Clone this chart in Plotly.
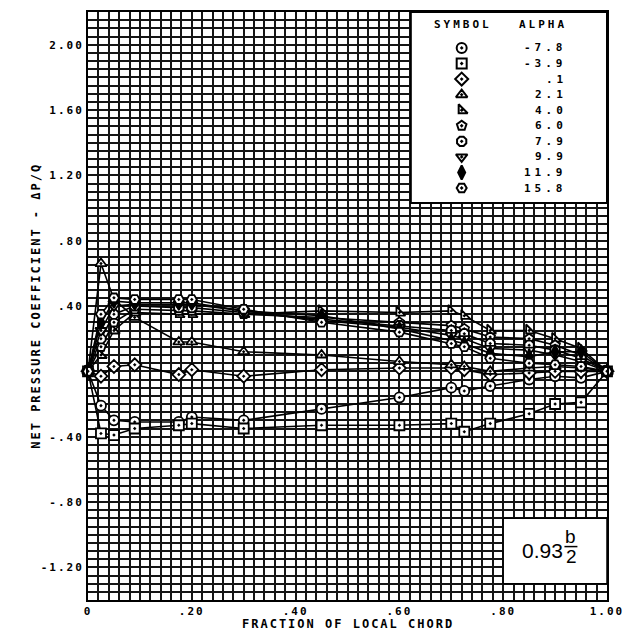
import plotly.graph_objects as go

# chord stations (fraction of local chord)
chord = [0, 0.025, 0.05, 0.09, 0.175, 0.20, 0.30, 0.45, 0.60, 0.70, 0.725, 0.775, 0.85, 0.90, 0.95, 1.00]

alphas = ["-7.8", "-3.9", ".1", "2.1", "4.0", "6.0", "7.9", "9.9", "11.9", "15.8"]

# net pressure coefficient, one list per alpha
cp_m78 = [0, -0.21, -0.30, -0.31, -0.31, -0.28, -0.30, -0.23, -0.16, -0.10, -0.12, -0.09, -0.05, -0.03, -0.04, 0]
cp_m39 = [0, -0.38, -0.39, -0.35, -0.33, -0.32, -0.35, -0.33, -0.33, -0.32, -0.37, -0.32, -0.26, -0.20, -0.19, 0]
cp_01 = [0, -0.03, 0.03, 0.04, -0.02, 0.01, -0.03, 0.01, 0.02, 0.02, 0.01, -0.02, -0.01, 0.00, 0.00, 0]
cp_21 = [0, 0.66, 0.44, 0.33, 0.18, 0.18, 0.12, 0.10, 0.06, 0.04, 0.03, 0.00, 0.02, 0.03, 0.02, 0]
cp_40 = [0, 0.10, 0.25, 0.36, 0.35, 0.35, 0.35, 0.37, 0.36, 0.37, 0.34, 0.25, 0.25, 0.20, 0.14, 0]
cp_60 = [0, 0.15, 0.30, 0.38, 0.37, 0.37, 0.35, 0.33, 0.30, 0.28, 0.26, 0.21, 0.20, 0.16, 0.10, 0]
cp_79 = [0, 0.20, 0.35, 0.40, 0.39, 0.39, 0.36, 0.32, 0.28, 0.25, 0.23, 0.17, 0.16, 0.13, 0.08, 0]
cp_99 = [0, 0.25, 0.40, 0.41, 0.41, 0.41, 0.37, 0.31, 0.27, 0.22, 0.20, 0.14, 0.13, 0.10, 0.06, 0]
cp_119 = [0, 0.30, 0.43, 0.42, 0.42, 0.42, 0.37, 0.34, 0.26, 0.19, 0.17, 0.11, 0.09, 0.12, 0.12, 0]
cp_158 = [0, 0.35, 0.45, 0.44, 0.44, 0.44, 0.38, 0.30, 0.24, 0.17, 0.15, 0.08, 0.05, 0.04, 0.03, 0]

series = [cp_m78, cp_m39, cp_01, cp_21, cp_40, cp_60, cp_79, cp_99, cp_119, cp_158]
symbols = ["circle-dot", "square-dot", "diamond-dot", "triangle-up-dot", "triangle-sw-dot",
           "pentagon-dot", "octagon-dot", "triangle-down-dot", "diamond-tall", "hexagon2-dot"]
fills = ["white"] * 8 + ["black", "white"]

xticks = [0, 0.2, 0.4, 0.6, 0.8, 1.0]
xtick_text = ["0", ".20", ".40", ".60", ".80", "1.00"]
yticks = [-1.2, -0.8, -0.4, 0.4, 0.8, 1.2, 1.6, 2.0]
ytick_text = ["-1.20", "-.80", "-.40", ".40", ".80", "1.20", "1.60", "2.00"]

MONO = "DejaVu Sans Mono"


def spaced(s, px=2):
    return f'<span style="letter-spacing:{px}px">{s}</span>'


fig = go.Figure()

for vals, sym, fc in zip(series, symbols, fills):
    fig.add_trace(go.Scatter(
        x=chord, y=vals, mode="lines+markers",
        line=dict(color="black", width=1.6),
        marker=dict(symbol=sym, size=10, color=fc, line=dict(color="black", width=1.8)),
        cliponaxis=False, showlegend=False, hoverinfo="skip",
    ))

# legend table (drawn inside the white box at upper right)
leg_x = 0.72
leg_y0 = 1.98
leg_step = 0.0953
leg_y = [leg_y0 - i * leg_step for i in range(len(alphas))]
fig.add_trace(go.Scatter(
    x=[leg_x] * len(alphas), y=leg_y, mode="markers",
    marker=dict(symbol=symbols, size=10, color=fills, line=dict(color="black", width=2)),
    cliponaxis=False, showlegend=False, hoverinfo="skip",
))

ann = []
ann.append(dict(x=0.722, y=2.125, text=spaced("SYMBOL", 3), showarrow=False,
                font=dict(family=MONO, size=11, color="black", weight="bold")))
ann.append(dict(x=0.877, y=2.125, text=spaced("ALPHA", 3), showarrow=False,
                font=dict(family=MONO, size=11, color="black", weight="bold")))
for a, yy in zip(alphas, leg_y):
    ann.append(dict(x=0.926, y=yy, text=spaced(a, 4), showarrow=False, xanchor="right",
                    font=dict(family=MONO, size=11, color="black", weight="bold")))

# span station label
ann.append(dict(x=0.875, y=-1.096, text="0.93", showarrow=False,
                font=dict(family="Liberation Sans", size=21, color="black")))
ann.append(dict(x=0.93, y=-1.012, text="b", showarrow=False,
                font=dict(family="Liberation Sans", size=19, color="black")))
ann.append(dict(x=0.931, y=-1.135, text="2", showarrow=False,
                font=dict(family="Liberation Sans", size=19, color="black")))

# axis titles
ann.append(dict(xref="paper", yref="paper", x=0.5, y=-0.0415, yanchor="middle",
                text=spaced("FRACTION OF LOCAL CHORD", 2), showarrow=False,
                font=dict(family=MONO, size=12, color="black", weight="bold")))
ann.append(dict(xref="paper", yref="paper", x=-0.118, y=0.5, textangle=-90,
                text=spaced("NET PRESSURE COEFFICIENT - ΔP/Q", 2), showarrow=False,
                font=dict(family=MONO, size=12, color="black", weight="bold")))

shapes = [
    dict(type="rect", x0=0.622, x1=1.0, y0=1.03, y1=2.2, fillcolor="white",
         line=dict(color="black", width=2), layer="between"),
    dict(type="rect", x0=0.80, x1=1.0, y0=-1.30, y1=-0.90, fillcolor="white",
         line=dict(color="black", width=1.5), layer="between"),
    dict(type="line", x0=0.918, x1=0.943, y0=-1.073, y1=-1.073,
         line=dict(color="black", width=1.5)),
]

grid_col = "#151515"
fig.update_xaxes(
    range=[0, 1.0], tickmode="array", tickvals=xticks, ticktext=[spaced(t, 2) for t in xtick_text],
    showgrid=True, gridcolor=grid_col, gridwidth=2, zeroline=False,
    minor=dict(tick0=0, dtick=0.02, showgrid=True, gridcolor=grid_col, gridwidth=1.5),
    showline=True, linecolor="black", linewidth=2, mirror=True, ticks="",
    tickfont=dict(family=MONO, size=11, color="black", weight="bold"),
    ticklabelstandoff=0,
)
fig.update_yaxes(
    range=[-1.4, 2.2], tickmode="array", tickvals=yticks, ticktext=[spaced(t, 2) for t in ytick_text],
    showgrid=True, gridcolor=grid_col, gridwidth=2, zeroline=False,
    minor=dict(tick0=0, dtick=0.05, showgrid=True, gridcolor=grid_col, gridwidth=1.5),
    showline=True, linecolor="black", linewidth=2, mirror=True, ticks="",
    tickfont=dict(family=MONO, size=11, color="black", weight="bold"),
    ticklabelstandoff=0,
)

# page body has an 8px margin, so the figure is sized to fit the 631x632 window
fig.update_layout(
    width=623, height=624,
    margin=dict(l=80, r=24, t=2, b=32),
    paper_bgcolor="white", plot_bgcolor="white",
    annotations=ann, shapes=shapes,
    showlegend=False,
)

fig.write_html("out.html")
